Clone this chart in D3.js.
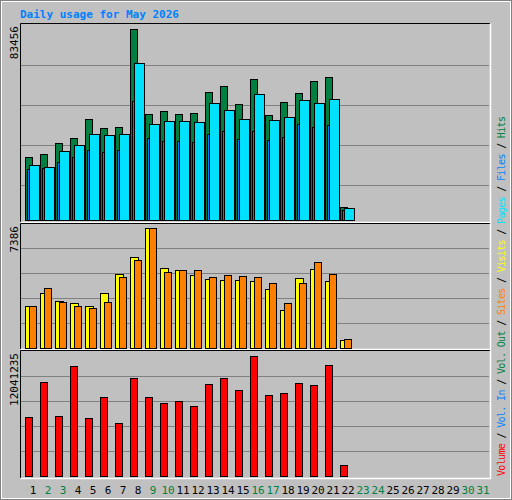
<!DOCTYPE html>
<html><head><meta charset="utf-8">
<script src="https://cdn.jsdelivr.net/npm/d3@7"></script>
<style>body{margin:0;background:#fff}</style>
</head><body>
<script>
// daily values
var days = d3.range(1, 32);
var weekends = [2, 3, 9, 10, 16, 17, 23, 24, 30, 31];
var hits = [27530, 28840, 33640, 35830, 44130, 40200, 40630, 83456, 46320, 47630, 46320, 46750, 55930, 58550, 50690, 61610, 45880, 51560, 55490, 60730, 62480, 5680];
var files = [24030, 23160, 30150, 32770, 37580, 37140, 37580, 68600, 41950, 43260, 43260, 42820, 51120, 48060, 44130, 55050, 43690, 45000, 52430, 51120, 52870, 5240];
var pages = [22280, 22720, 25340, 27530, 30590, 29710, 30590, 52000, 35830, 34520, 34520, 34080, 37580, 38890, 35390, 38890, 34950, 36270, 41950, 40630, 41510, 4370];
var visits = [2567, 3385, 2893, 2770, 2567, 3385, 4555, 5583, 7386, 4906, 4782, 4493, 4247, 4185, 4185, 4124, 3631, 2339, 4290, 4844, 4105, 474];
var sites = [2567, 3675, 2813, 2567, 2444, 2813, 4352, 5398, 7386, 4659, 4782, 4782, 4352, 4475, 4413, 4352, 3982, 2751, 3982, 5275, 4536, 535];
var volume = [5905000, 9426000, 6006000, 11035000, 5804000, 7917000, 5301000, 9828000, 7917000, 7313000, 7514000, 7011000, 9225000, 9828000, 8621000, 12041235, 8118000, 8319000, 9325000, 9124000, 11136000, 1076000];

var W = 512, H = 500;
var svg = d3.select("body").append("svg").attr("width", W).attr("height", H)
    .style("font-family", "'DejaVu Sans Mono', monospace");

// background and frame
svg.append("rect").attr("x", 0.5).attr("y", 0.5).attr("width", W - 1).attr("height", H - 1)
    .attr("fill", "#c0c0c0").attr("stroke", "#808080");
svg.append("rect").attr("x", 1.5).attr("y", 1.5).attr("width", W - 3).attr("height", H - 3)
    .attr("fill", "none").attr("stroke", "#fff");

svg.append("text").attr("x", 20).attr("y", 18).attr("fill", "#0080ff")
    .attr("font-size", 11).attr("font-weight", "bold").text("Daily usage for May 2026");

var x = d3.scaleBand().domain(days).range([24, 489]);

var panels = [
    {top: 24, bottom: 222, barBottom: 220, maxY: 29, max: 83456, label: "83456"},
    {top: 224, bottom: 349, barBottom: 348, maxY: 228, max: 7386, label: "7386"},
    {top: 351, bottom: 478, barBottom: 476, maxY: 356, max: 12041235, label: "12041235"}
];

panels.forEach(function (p) {
    p.y = d3.scaleLinear().domain([0, p.max]).range([p.barBottom, p.maxY]);
    var g = svg.append("g");
    // grid lines
    for (var k = 1; k <= 4; k++) {
        var gy = Math.round(p.barBottom - (p.max === 83456 ? 35 + (k - 1) * 40 : k * 25)) + 0.5;
        g.append("line").attr("x1", 21).attr("x2", 489).attr("y1", gy).attr("y2", gy)
            .attr("stroke", "#808080").attr("stroke-width", 1);
    }
    g.append("path").attr("d", `M20.5,${p.bottom}V${p.top - 0.5}H490`)
        .attr("fill", "none").attr("stroke", "#000");
    g.append("path").attr("d", `M20.5,${p.bottom + 0.5}H490.5V${p.top - 0.5}`)
        .attr("fill", "none").attr("stroke", "#fff").attr("stroke-width", 1.5);
    svg.append("text")
        .attr("transform", `translate(18,${p.top + 2}) rotate(-90)`)
        .attr("text-anchor", "end").attr("font-size", 11).attr("fill", "#000")
        .text(p.label);
});

function bars(data, panel, dx, w, color) {
    var y = panels[panel].y;
    svg.append("g").selectAll("rect").data(data).enter().append("rect")
        .attr("x", (d, i) => x(i + 1) + dx + 0.5)
        .attr("y", d => Math.round(y(d)) + 0.5)
        .attr("width", w)
        .attr("height", d => panels[panel].barBottom - Math.round(y(d)))
        .attr("fill", color).attr("stroke", "#000").attr("stroke-width", 1);
}

// top panel: hits, pages, files
hits.forEach(function (h, i) {
    var y = panels[0].y, x0 = x(i + 1), b = panels[0].barBottom;
    var g = svg.append("g").attr("stroke", "#000");
    g.append("rect").attr("x", x0 + 1.5).attr("y", Math.round(y(h)) + 0.5).attr("width", 7)
        .attr("height", b - Math.round(y(h))).attr("fill", "#008040");
    g.append("rect").attr("x", x0 + 3.5).attr("y", Math.round(y(pages[i])) + 0.5).attr("width", 2)
        .attr("height", b - Math.round(y(pages[i]))).attr("fill", "#0080ff");
    g.append("rect").attr("x", x0 + 5.5).attr("y", Math.round(y(files[i])) + 0.5).attr("width", 10)
        .attr("height", b - Math.round(y(files[i]))).attr("fill", "#00e0ff");
});

// middle panel: visits, sites
visits.forEach(function (v, i) {
    var y = panels[1].y, x0 = x(i + 1), b = panels[1].barBottom;
    var g = svg.append("g").attr("stroke", "#000");
    g.append("rect").attr("x", x0 + 1.5).attr("y", Math.round(y(v)) + 0.5).attr("width", 8)
        .attr("height", b - Math.round(y(v))).attr("fill", "#ffff00");
    g.append("rect").attr("x", x0 + 5.5).attr("y", Math.round(y(sites[i])) + 0.5).attr("width", 7)
        .attr("height", b - Math.round(y(sites[i]))).attr("fill", "#ff8000");
});

// bottom panel: volume
bars(volume, 2, 1, 7, "#ff0000");

// day labels
svg.append("g").selectAll("text").data(days).enter().append("text")
    .attr("x", d => x(d) + 9).attr("y", 494)
    .attr("text-anchor", "middle").attr("font-size", 11)
    .attr("fill", d => weekends.indexOf(d) >= 0 ? "#008040" : "#000")
    .text(d => d);

// right-hand legend
var legend = [
    ["Volume", "#ff0000"], [" / ", "#000"], ["Vol. In", "#0080ff"], [" / ", "#000"],
    ["Vol. Out", "#008040"], [" / ", "#000"], ["Sites", "#ff8000"], [" / ", "#000"],
    ["Visits", "#ffff00"], [" / ", "#000"], ["Pages", "#00e0ff"], [" / ", "#000"],
    ["Files", "#0080ff"], [" / ", "#000"], ["Hits", "#008040"]
];
var lt = svg.append("text").attr("transform", "translate(505,476) rotate(-90)")
    .attr("font-size", 10).attr("xml:space", "preserve")
    .attr("textLength", 360).attr("lengthAdjust", "spacing");
lt.selectAll("tspan").data(legend).enter().append("tspan")
    .attr("fill", d => d[1]).text(d => d[0]);
</script>
</body></html>
